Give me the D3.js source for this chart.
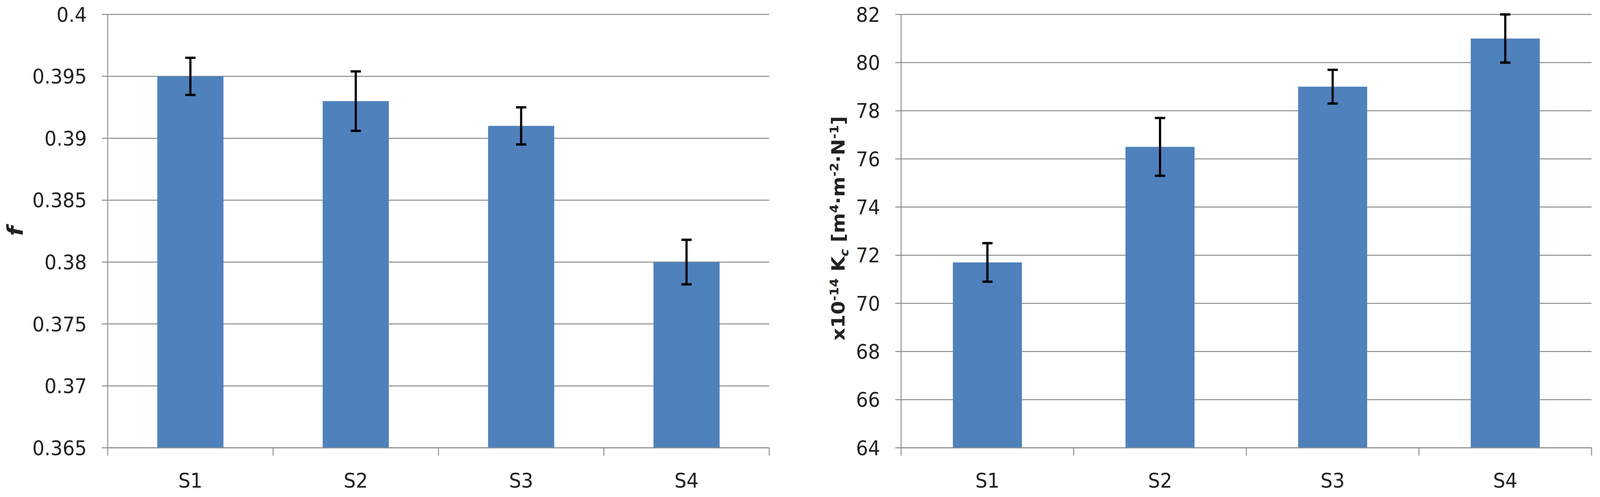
<!DOCTYPE html>
<html>
<head>
<meta charset="utf-8">
<script src="https://cdn.jsdelivr.net/npm/d3@7"></script>
<style>
html, body { margin: 0; padding: 0; background: #fff; overflow: hidden; }
svg { display: block; }
text { font-family: "DejaVu Sans", sans-serif; fill: #222; }
</style>
</head>
<body>
<script>
// Data
var categories = ["S1", "S2", "S3", "S4"];
var fValues = [0.395, 0.393, 0.391, 0.380];
var fErrors = [0.0015, 0.0024, 0.0015, 0.0018];
var fTicks = [0.365, 0.37, 0.375, 0.38, 0.385, 0.39, 0.395, 0.4];
var kValues = [71.7, 76.5, 79.0, 81.0];
var kErrors = [0.8, 1.2, 0.7, 1.0];
var kTicks = [64, 66, 68, 70, 72, 74, 76, 78, 80, 82];

var W = 4368, H = 1273;
var svg = d3.select("body").append("svg")
    .attr("width", window.innerWidth).attr("height", window.innerHeight)
    .attr("viewBox", "0 0 " + W + " " + H)
    .attr("preserveAspectRatio", "none");

var panel = function(opts) {
    var g = svg.append("g");
    var x = d3.scaleBand().domain(categories).range([opts.left, opts.right]).paddingInner(0.6).paddingOuter(0.3);
    var xt = d3.scaleBand().domain(categories).range([opts.left, opts.right]);
    var y = d3.scaleLinear().domain(opts.domain).range([1147, 37]);

    // gridlines + tick labels
    g.selectAll("line.grid").data(opts.ticks).enter().append("line")
        .attr("x1", opts.left - 16).attr("x2", opts.right)
        .attr("y1", function(d) { return y(d); }).attr("y2", function(d) { return y(d); })
        .attr("stroke", "#8c8c8c").attr("stroke-width", 2.5);
    g.selectAll("text.tick").data(opts.ticks).enter().append("text")
        .attr("x", opts.left - 57).attr("y", function(d) { return y(d); })
        .attr("dy", "0.36em").attr("text-anchor", "end").attr("font-size", 52)
        .text(opts.fmt);

    // bars
    g.selectAll("rect").data(opts.values).enter().append("rect")
        .attr("x", function(d, i) { return x(categories[i]); })
        .attr("width", x.bandwidth())
        .attr("y", function(d) { return y(d); })
        .attr("height", function(d) { return y(opts.domain[0]) - y(d); })
        .attr("fill", "#4f81bd");

    // error bars
    opts.values.forEach(function(v, i) {
        var cx = x(categories[i]) + x.bandwidth() / 2;
        var e = opts.errors[i];
        g.append("line").attr("x1", cx).attr("x2", cx).attr("y1", y(v + e)).attr("y2", y(v - e))
            .attr("stroke", "#000").attr("stroke-width", 6);
        [v + e, v - e].forEach(function(t) {
            g.append("line").attr("x1", cx - 14).attr("x2", cx + 14).attr("y1", y(t)).attr("y2", y(t))
                .attr("stroke", "#000").attr("stroke-width", 6);
        });
    });

    // axes
    g.append("line").attr("x1", opts.left).attr("x2", opts.left).attr("y1", 37).attr("y2", 1167)
        .attr("stroke", "#8c8c8c").attr("stroke-width", 2.5);
    g.append("line").attr("x1", opts.left).attr("x2", opts.right).attr("y1", 1147).attr("y2", 1147)
        .attr("stroke", "#8c8c8c").attr("stroke-width", 2.5);
    categories.forEach(function(c) {
        var tx = xt(c) + xt.bandwidth();
        g.append("line").attr("x1", tx).attr("x2", tx).attr("y1", 1147).attr("y2", 1167)
            .attr("stroke", "#8c8c8c").attr("stroke-width", 2.5);
        g.append("text").attr("x", xt(c) + xt.bandwidth() / 2).attr("y", 1249)
            .attr("text-anchor", "middle").attr("font-size", 52).text(c);
    });
    return g;
};

panel({ left: 294, right: 2100, domain: [0.365, 0.4], ticks: fTicks, values: fValues, errors: fErrors,
        fmt: function(d) { return String(+d.toFixed(3)); } });
svg.append("text").attr("transform", "translate(62,592) rotate(-90)")
    .attr("text-anchor", "middle").attr("font-size", 58).attr("font-style", "italic")
    .attr("font-family", "DejaVu Serif, serif").attr("font-weight", "bold").text("f");

panel({ left: 2460, right: 4345, domain: [64, 82], ticks: kTicks, values: kValues, errors: kErrors,
        fmt: function(d) { return String(d); } });
var lab = svg.append("text").attr("transform", "translate(2306,585) rotate(-90)")
    .attr("text-anchor", "middle").attr("font-size", 50).attr("font-weight", "bold")
    .attr("font-family", "Liberation Sans Narrow, Liberation Sans, sans-serif");
lab.append("tspan").text("x10");
lab.append("tspan").attr("dy", -18).attr("font-size", 32).text("-14");
lab.append("tspan").attr("dy", 18).text(" K");
lab.append("tspan").attr("dy", 10).attr("font-size", 32).attr("font-style", "italic").text("c");
lab.append("tspan").attr("dy", -10).text(" [m");
lab.append("tspan").attr("dy", -18).attr("font-size", 32).text("4");
lab.append("tspan").attr("dy", 18).text("·m");
lab.append("tspan").attr("dy", -18).attr("font-size", 32).text("-2");
lab.append("tspan").attr("dy", 18).text("·N");
lab.append("tspan").attr("dy", -18).attr("font-size", 32).text("-1");
lab.append("tspan").attr("dy", 18).text("]");
</script>
</body>
</html>
